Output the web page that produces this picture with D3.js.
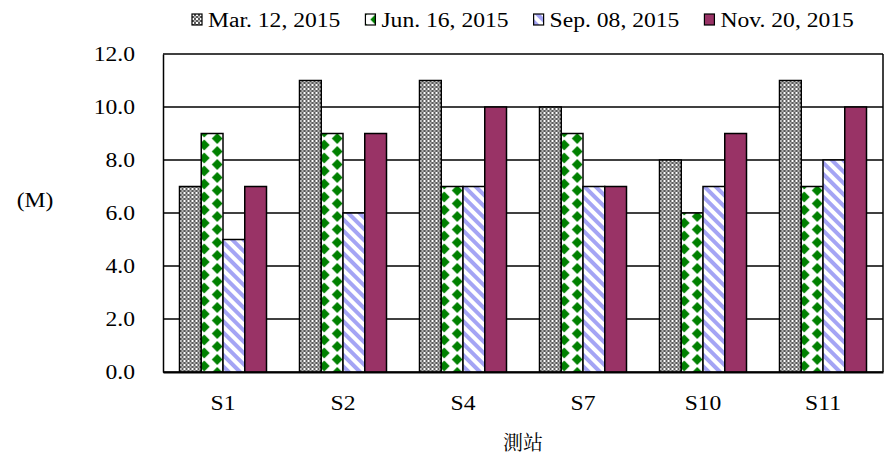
<!DOCTYPE html>
<html>
<head>
<meta charset="utf-8">
<script src="https://cdn.jsdelivr.net/npm/d3@7"></script>
<style>
  body { margin: 0; background: #fff; }
</style>
</head>
<body>
<div id="chart"></div>
<script>
const stations = ["S1", "S2", "S4", "S7", "S10", "S11"];
const seriesNames = ["Mar. 12, 2015", "Jun. 16, 2015", "Sep. 08, 2015", "Nov. 20, 2015"];
const mar = [7, 11, 11, 10, 8, 11];
const jun = [9, 9, 7, 9, 6, 7];
const sep = [5, 6, 7, 7, 7, 8];
const nov = [7, 9, 10, 7, 9, 10];
const yTicks = [0, 2, 4, 6, 8, 10, 12];

const W = 884, H = 457;
const margin = { top: 54, right: 1, bottom: 85, left: 163 };
const w = W - margin.left - margin.right;
const h = H - margin.top - margin.bottom;
const serif = "Liberation Serif";
const stretch = 1.18;

const svg = d3.select("#chart").append("svg")
    .attr("width", W).attr("height", H);

// the reference font is drawn a bit wide
function widen(sel) {
    sel.each(function() {
        const len = this.getComputedTextLength();
        d3.select(this).attr("textLength", len * stretch).attr("lengthAdjust", "spacingAndGlyphs");
    });
}

// ---- patterns ----
const defs = svg.append("defs");

const pGray = defs.append("pattern").attr("id", "p-gray")
    .attr("patternUnits", "userSpaceOnUse").attr("width", 4).attr("height", 4);
pGray.append("rect").attr("width", 4).attr("height", 4).attr("fill", "#fff");
pGray.append("rect").attr("width", 2).attr("height", 2).attr("fill", "#5a5a5a");
pGray.append("rect").attr("x", 2).attr("y", 2).attr("width", 2).attr("height", 2).attr("fill", "#5a5a5a");
pGray.append("rect").attr("x", 2).attr("y", 0).attr("width", 2).attr("height", 2).attr("fill", "#b0b0b0");

const fills = ["url(#p-gray)", "url(#p-green)", "url(#p-blue)", "#993366"];
const seriesData = [mar, jun, sep, nov];

// ---- scales ----
const x0 = d3.scaleBand().domain(stations).range([0, w]).paddingInner(0.275).paddingOuter(0.1375);
const x1 = d3.scaleBand().domain(d3.range(seriesNames.length)).range([0, x0.bandwidth()]);
const y = d3.scaleLinear().domain([0, 12]).range([h, 0]);

const pGreen = defs.append("pattern").attr("id", "p-green")
    .attr("patternUnits", "userSpaceOnUse").attr("width", 26).attr("height", 13)
    .attr("x", x1(1) + 3).attr("y", 0);
pGreen.append("rect").attr("width", 26).attr("height", 13).attr("fill", "#fff");
[[0, 0], [0, 13], [26, 0], [26, 13], [13, 6.5]].forEach(([cx, cy]) => {
    pGreen.append("path")
        .attr("d", `M${cx},${cy - 5.6}L${cx + 5.4},${cy}L${cx},${cy + 5.6}L${cx - 5.4},${cy}Z`)
        .attr("fill", "#008000");
});

const pBlue = defs.append("pattern").attr("id", "p-blue")
    .attr("patternUnits", "userSpaceOnUse").attr("width", 8).attr("height", 8)
    .attr("patternTransform", "rotate(-45)");
pBlue.append("rect").attr("width", 8).attr("height", 8).attr("fill", "#fff");
pBlue.append("rect").attr("width", 4).attr("height", 8).attr("fill", "#a4a4f4");

const g = svg.append("g").attr("transform", `translate(${margin.left},${margin.top})`);

// gridlines
g.selectAll(".grid").data(yTicks).enter().append("line")
    .attr("x1", 0).attr("x2", w)
    .attr("y1", d => y(d)).attr("y2", d => y(d))
    .attr("stroke", "#000").attr("stroke-width", 1.5);

// right border
g.append("line").attr("x1", w).attr("x2", w).attr("y1", 0).attr("y2", h)
    .attr("stroke", "#000").attr("stroke-width", 1.5);

// bars
const groups = g.selectAll(".grp").data(stations).enter().append("g")
    .attr("transform", d => `translate(${x0(d)},0)`);

groups.selectAll("rect")
    .data((d, i) => seriesData.map((s, k) => ({ k, v: s[i] })))
    .enter().append("rect")
    .attr("x", d => x1(d.k))
    .attr("width", x1.bandwidth())
    .attr("y", d => y(d.v))
    .attr("height", d => h - y(d.v))
    .attr("fill", d => fills[d.k])
    .attr("stroke", "#000").attr("stroke-width", 1.5);

// y axis
const yAxis = g.append("g")
    .call(d3.axisLeft(y).tickValues(yTicks).tickFormat(d3.format(".1f")).tickSize(0).tickPadding(28));
yAxis.select(".domain").attr("stroke", "#000").attr("stroke-width", 1.5);
yAxis.selectAll("text").attr("fill", "#000").style("font-family", serif).style("font-size", "20px").call(widen);

// x axis
const xAxis = g.append("g").attr("transform", `translate(0,${h})`)
    .call(d3.axisBottom(x0).tickSize(0).tickPadding(24));
xAxis.select(".domain").attr("stroke", "#000").attr("stroke-width", 2);
xAxis.selectAll("text").attr("fill", "#000").style("font-family", serif).style("font-size", "20px").call(widen);

// axis titles
svg.append("text").attr("x", 35).attr("y", 207).attr("text-anchor", "middle")
    .style("font-family", serif).style("font-size", "20px").text("(M)").call(widen);
svg.append("text").attr("x", margin.left + w / 2).attr("y", 450).attr("text-anchor", "middle")
    .style("font-family", "Noto Serif CJK TC").style("font-size", "20px")
    .text("測站");

// legend, laid out left to right
const legend = svg.append("g");
let lx = 192;
seriesNames.forEach((name, i) => {
    legend.append("rect").attr("x", lx).attr("y", 14).attr("width", 10).attr("height", 11)
        .attr("fill", fills[i]).attr("stroke", "#000").attr("stroke-width", 1.2);
    const t = legend.append("text").attr("x", lx + 16).attr("y", 27)
        .style("font-family", serif).style("font-size", "20px").text(name);
    const len = t.node().getComputedTextLength() * stretch;
    t.attr("textLength", len).attr("lengthAdjust", "spacingAndGlyphs");
    lx += 16 + len + 25;
});
</script>
</body>
</html>
